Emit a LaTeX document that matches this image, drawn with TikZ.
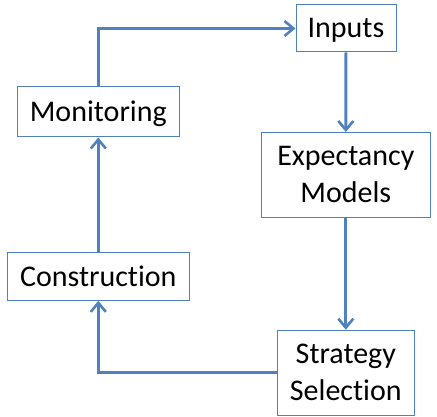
\documentclass[tikz,border=0pt]{standalone}
\usepackage{fontspec}
\setmainfont[Ligatures={NoCommon}]{Carlito}
\usetikzlibrary{arrows.meta}
\definecolor{obl}{HTML}{4F81BD}
\begin{document}
\begin{tikzpicture}[x=1pt,y=-1pt,
  box/.style={draw=obl,line width=1pt,fill=white,inner sep=0pt,align=center,
    font=\fontsize{30}{37}\selectfont,text=black,text depth=1pt},
  conn/.style={draw=obl,line width=3pt,-{Straight Barb[length=9pt,width=15pt,line width=2.6pt]}}]
\useasboundingbox (0,0) rectangle (437,417);
\node[box,minimum width=100pt,minimum height=47pt] (inp) at (346,28.5) {Inputs};
\node[box,minimum width=162pt,minimum height=50pt] (mon) at (98.3,112) {Monitoring};
\node[box,minimum width=169pt,minimum height=85pt] (exp) at (345.8,175) {Expectancy\\Models};
\node[box,minimum width=182pt,minimum height=48pt] (con) at (98.3,276.3) {Construction};
\node[box,minimum width=137pt,minimum height=85pt] (str) at (345.8,372.7) {Strategy\\Selection};
\draw[conn] (mon.north) |- (inp.west);
\draw[conn] (inp.south) -- (exp.north);
\draw[conn] (exp.south) -- (str.north);
\draw[conn] (str.west) -| (con.south);
\draw[conn] (con.north) -- (mon.south);
\end{tikzpicture}
\end{document}
